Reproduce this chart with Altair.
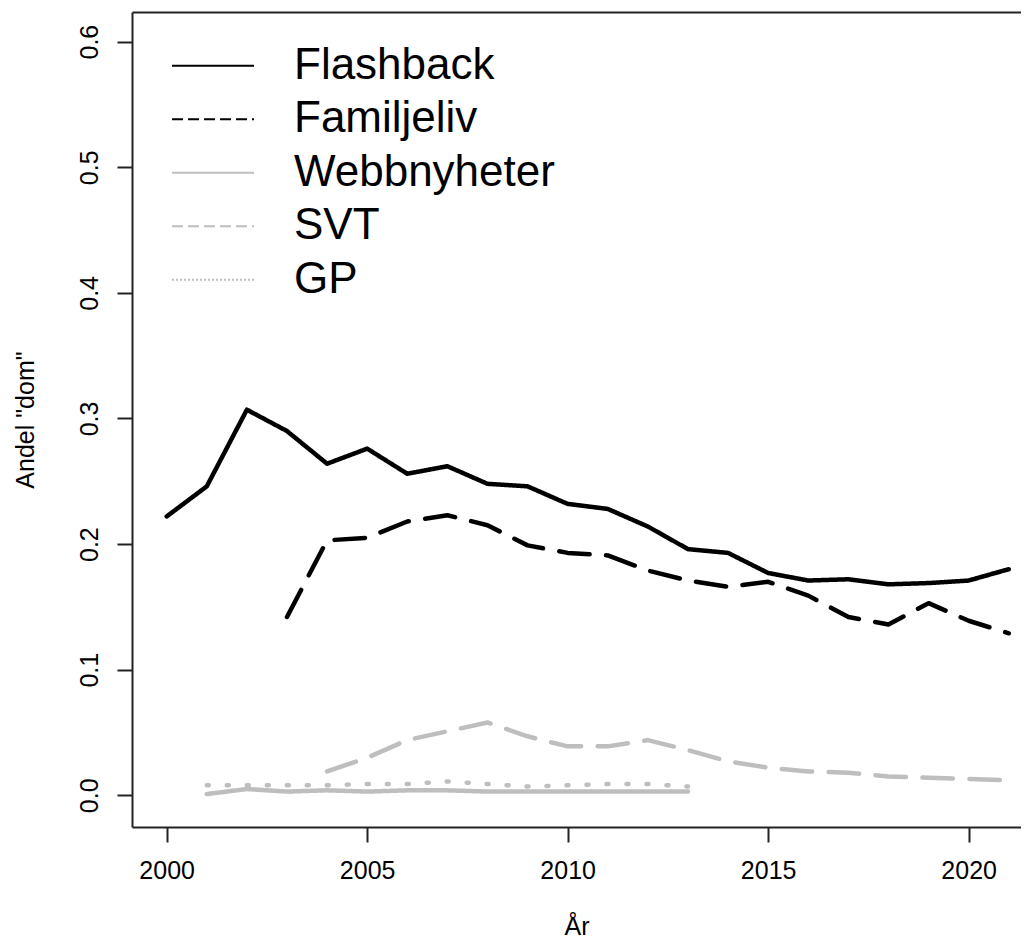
import altair as alt
import pandas as pd

series_names = ["Flashback", "Familjeliv", "Webbnyheter", "SVT", "GP"]
series_colors = ["black", "black", "#bebebe", "#bebebe", "#bebebe"]

flashback_years = list(range(2000, 2022))
flashback_vals = [0.222, 0.246, 0.307, 0.290, 0.264, 0.276, 0.256, 0.262, 0.248, 0.246,
                  0.232, 0.228, 0.214, 0.196, 0.193, 0.177, 0.171, 0.172, 0.168, 0.169,
                  0.171, 0.180]

familjeliv_years = list(range(2003, 2022))
familjeliv_vals = [0.142, 0.203, 0.205, 0.218, 0.223, 0.215, 0.199, 0.193, 0.191, 0.179,
                   0.171, 0.166, 0.170, 0.159, 0.142, 0.136, 0.153, 0.139, 0.129]

webb_years = list(range(2001, 2014))
webb_vals = [0.001, 0.005, 0.003, 0.004, 0.003, 0.004, 0.004, 0.003, 0.003, 0.003,
             0.003, 0.003, 0.003]

svt_years = list(range(2004, 2022))
svt_vals = [0.019, 0.030, 0.044, 0.051, 0.058, 0.047, 0.039, 0.039, 0.044, 0.036,
            0.027, 0.022, 0.019, 0.018, 0.015, 0.014, 0.013, 0.012]

gp_years = list(range(2001, 2014))
gp_vals = [0.008, 0.008, 0.008, 0.008, 0.009, 0.009, 0.011, 0.009, 0.007, 0.008,
           0.009, 0.009, 0.007]

x_ticks = [2000, 2005, 2010, 2015, 2020]
y_ticks = [0.0, 0.1, 0.2, 0.3, 0.4, 0.5, 0.6]

rows = []
for name, yrs, vals in [("Flashback", flashback_years, flashback_vals),
                        ("Familjeliv", familjeliv_years, familjeliv_vals),
                        ("Webbnyheter", webb_years, webb_vals),
                        ("SVT", svt_years, svt_vals),
                        ("GP", gp_years, gp_vals)]:
    for y, v in zip(yrs, vals):
        rows.append({"series": name, "year": y, "value": v})
df = pd.DataFrame(rows)
legend_df = pd.DataFrame({"series": series_names})

FONT = "Liberation Sans"
W, H = 889, 815

x_scale = alt.Scale(domain=[1999.135, 2021.305], nice=False, zero=False)
y_scale = alt.Scale(domain=[-0.0252, 0.6236], nice=False, zero=False)
color_scale = alt.Scale(domain=series_names, range=series_colors)

y_axis = alt.Axis(values=y_ticks, format=".1f", labelAngle=270, labelAlign="center",
                  labelBaseline="alphabetic", labelPadding=20, labelFontSize=25,
                  labelFont=FONT, labelColor="black", tickSize=15, tickWidth=2,
                  tickColor="#222", domainColor="#222", domainWidth=2, grid=False,
                  title='Andel "dom"', titleFont=FONT, titleFontSize=25,
                  titleFontWeight="normal", titleColor="black", titleX=-99,
                  titleBaseline="alphabetic", labelFlush=False)

lines = alt.Chart(df).mark_line(strokeWidth=4.5, strokeCap="round", strokeJoin="round").encode(
    x=alt.X("year:Q", scale=x_scale,
            axis=alt.Axis(values=x_ticks, format="d", labelFontSize=25, labelFont=FONT,
                          labelColor="black", labelPadding=16, tickSize=15, tickWidth=2,
                          tickColor="#222", domainColor="#222", domainWidth=2, grid=False,
                          title="År", titleFont=FONT, titleFontSize=25,
                          titleFontWeight="normal", titleColor="black",
                          titleY=107, titleBaseline="alphabetic", labelFlush=False)),
    y=alt.Y("value:Q", scale=y_scale, axis=y_axis),
    color=alt.Color("series:N", scale=color_scale, legend=None),
    strokeDash=alt.StrokeDash("series:N",
                              scale=alt.Scale(domain=series_names,
                                              range=[[1, 0], [30.5, 16.5], [1, 0], [30.5, 16.5], [2, 18]]),
                              legend=None),
    detail="series:N",
)

top_border = alt.Chart(df).mark_line(opacity=0).encode(
    x=alt.X("year:Q", scale=x_scale,
            axis=alt.Axis(orient="top", labels=False, ticks=False, title=None, grid=False,
                          domainColor="#222", domainWidth=2)),
    y=alt.Y("value:Q", scale=y_scale, axis=None),
    detail="series:N",
)

legend_y = alt.Y("series:N", scale=alt.Scale(type="point", domain=series_names,
                                             range=[53.7, 267.7], padding=0), axis=None)

legend_lines = alt.Chart(legend_df).mark_rule(strokeWidth=2).encode(
    x=alt.value(40), x2=alt.value(122),
    y=legend_y,
    color=alt.Color("series:N", scale=color_scale, legend=None),
    strokeDash=alt.StrokeDash("series:N",
                              scale=alt.Scale(domain=series_names,
                                              range=[[1, 0], [11, 5], [1, 0], [11, 5], [2, 2]]),
                              legend=None),
)

legend_text = alt.Chart(legend_df).mark_text(align="left", baseline="middle", fontSize=44,
                                             font=FONT, color="black").encode(
    x=alt.value(162),
    y=legend_y,
    text="series:N",
)

chart = alt.layer(lines, top_border, legend_lines, legend_text).resolve_axis(
    x="independent").resolve_scale(y="independent", strokeDash="independent").properties(
    width=W, height=H,
    autosize=alt.AutoSizeParams(type="none"),
    padding={"left": 124, "top": 4, "right": 0, "bottom": 114},
    background="white",
).configure_view(strokeWidth=0)

chart.save("out.html", embed_options={"renderer": "svg", "actions": False})
